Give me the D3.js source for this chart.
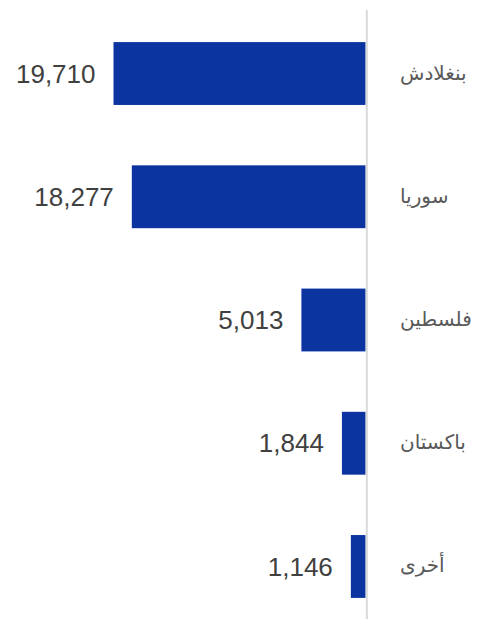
<!DOCTYPE html>
<html><head><meta charset="utf-8">
<script src="https://cdn.jsdelivr.net/npm/d3@7"></script>
<style>html,body{margin:0;padding:0;background:#fff;}</style>
</head><body>
<script>
const categories = ["بنغلادش","سوريا","فلسطين","باكستان","أخرى"];
const values = [19710, 18277, 5013, 1844, 1146];

const W = 479, H = 619;
const origin = 365.5;
const svg = d3.select("body").append("svg").attr("width", W).attr("height", H);

const x = d3.scaleLinear().domain([0, 20000]).range([0, 255.7]);
const y = d3.scaleBand().domain(categories).range([11.9, 628.1]).paddingInner(0.49).paddingOuter(0.245);

svg.selectAll("rect.bar").data(categories).join("rect")
  .attr("class","bar")
  .attr("x", (d,i) => origin - x(values[i]))
  .attr("y", d => y(d))
  .attr("width", (d,i) => x(values[i]))
  .attr("height", y.bandwidth())
  .attr("fill", "#0b34a0");

svg.append("line").attr("x1", 366.8).attr("x2", 366.8).attr("y1", 10).attr("y2", H)
  .attr("stroke", "#d9d9d9").attr("stroke-width", 2);

const fmt = d3.format(",");
svg.selectAll("text.val").data(categories).join("text")
  .attr("class","val")
  .attr("x", (d,i) => origin - x(values[i]) - 18)
  .attr("y", d => y(d) + y.bandwidth()/2)
  .attr("dy", "0.35em")
  .attr("text-anchor", "end")
  .attr("font-family", "Liberation Sans, Arial, sans-serif")
  .attr("font-size", 26)
  .attr("fill", "#404040")
  .text((d,i) => fmt(values[i]));

svg.selectAll("text.cat").data(categories).join("text")
  .attr("class","cat")
  .attr("x", 400)
  .attr("y", d => y(d) + y.bandwidth()/2)
  .attr("dy", "0.3em")
  .attr("text-anchor", "start")
  .attr("font-family", "DejaVu Sans, sans-serif")
  .attr("font-size", 20)
  .attr("fill", "#595959")
  .text(d => d);
</script>
</body></html>
